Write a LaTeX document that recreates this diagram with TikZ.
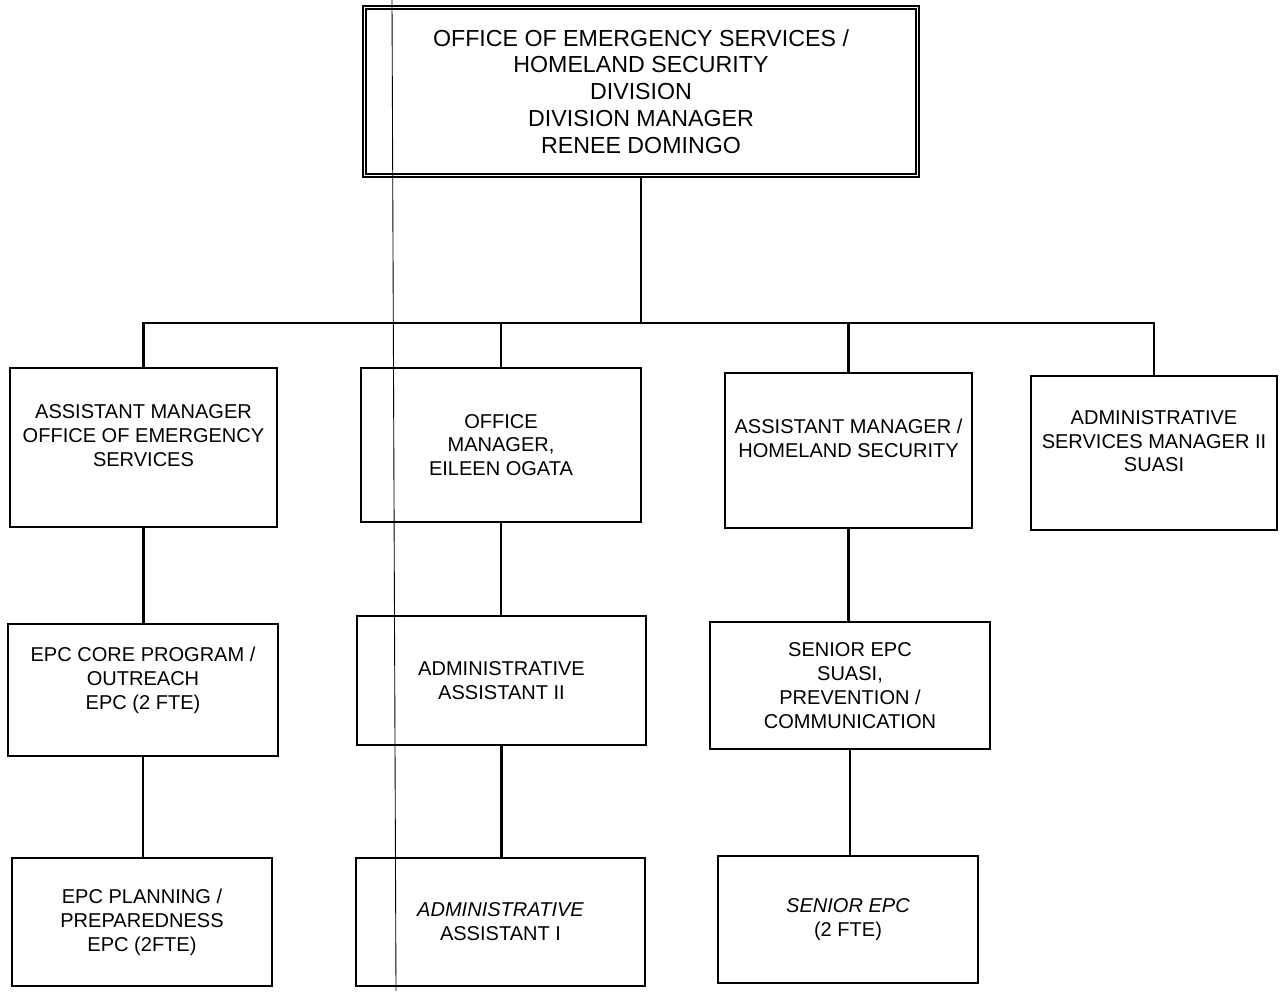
\documentclass[tikz,border=0pt]{standalone}
\usepackage{fontspec}
\setmainfont{Liberation Sans}
\usetikzlibrary{positioning,calc}

\begin{document}
\begin{tikzpicture}[
  x=0.2mm, y=-0.2mm,
  every node/.style={font=\fontsize{11.4}{13.6}\selectfont},
  wh/.style 2 args={minimum width=#1*0.2mm, minimum height=#2*0.2mm},
  box/.style={draw=black, line width=1.2pt, inner sep=0pt, align=center},
  headbox/.style={draw=black, line width=1.1pt, double, double distance=1.1pt,
              inner sep=0pt, align=center, font=\fontsize{13.2}{15.3}\selectfont},
  link/.style={line width=1.3pt, color=black},
  scan/.style={line width=0.5pt, color=black}
]
\useasboundingbox (0,0) rectangle (1280,991);

% division head
\node[headbox, wh={553}{168}] (head) at (641,91.5)
  {OFFICE OF EMERGENCY SERVICES /\\HOMELAND SECURITY\\DIVISION\\DIVISION MANAGER\\RENEE DOMINGO};

% second row
\node[box, wh={267}{159}] (amoes)  at (143.5,447.5) {ASSISTANT MANAGER\\OFFICE OF EMERGENCY\\SERVICES\\\mbox{}};
\node[box, wh={280}{154}] (offmgr) at (501,445)     {OFFICE\\MANAGER,\\EILEEN OGATA};
\node[box, wh={247}{155}] (amhs)   at (848.5,450.5) {ASSISTANT MANAGER /\\HOMELAND SECURITY\\\mbox{}};
\node[box, wh={246}{154}] (asm)    at (1154,453)    {ADMINISTRATIVE\\SERVICES MANAGER II\\SUASI\\\mbox{}};

% third row
\node[box, wh={270}{132}] (core)   at (143,690)     {EPC CORE PROGRAM /\\OUTREACH\\EPC (2 FTE)\\\mbox{}};
\node[box, wh={289}{129}] (aatwo)  at (501.5,680.5) {ADMINISTRATIVE\\ASSISTANT II};
\node[box, wh={280}{127}] (sepc)   at (850,685.5)   {SENIOR EPC\\SUASI,\\PREVENTION /\\COMMUNICATION};

% fourth row
\node[box, wh={260}{128}] (plan)   at (142,922)     {EPC PLANNING /\\PREPAREDNESS\\EPC (2FTE)};
\node[box, wh={289}{128}] (aaone)  at (500.5,922)   {\itshape ADMINISTRATIVE\\ASSISTANT I};
\node[box, wh={260}{127}] (sepctwo) at (848,919.5)  {\itshape SENIOR EPC\\(2 FTE)};

% reporting lines
\coordinate (bus) at (640,323);
\draw[link] (head.south) -- (head.south |- bus);
\draw[link] (amoes.north) |- (asm.north |- bus) -- (asm.north);
\draw[link] (offmgr.north) -- (offmgr.north |- bus);
\draw[link] (amhs.north) -- (amhs.north |- bus);

\draw[link] (amoes.south) -- (amoes.south |- core.north);
\draw[link] (core.south) -- (core.south |- plan.north);
\draw[link] (offmgr.south) -- (offmgr.south |- aatwo.north);
\draw[link] (aatwo.south) -- (aatwo.south |- aaone.north);
\draw[link] (amhs.south) -- (amhs.south |- sepc.north);
\draw[link] (sepc.south) -- (sepc.south |- sepctwo.north);

% scanner streak
\draw[scan] (392,0) -- (396,991);
\end{tikzpicture}
\end{document}
